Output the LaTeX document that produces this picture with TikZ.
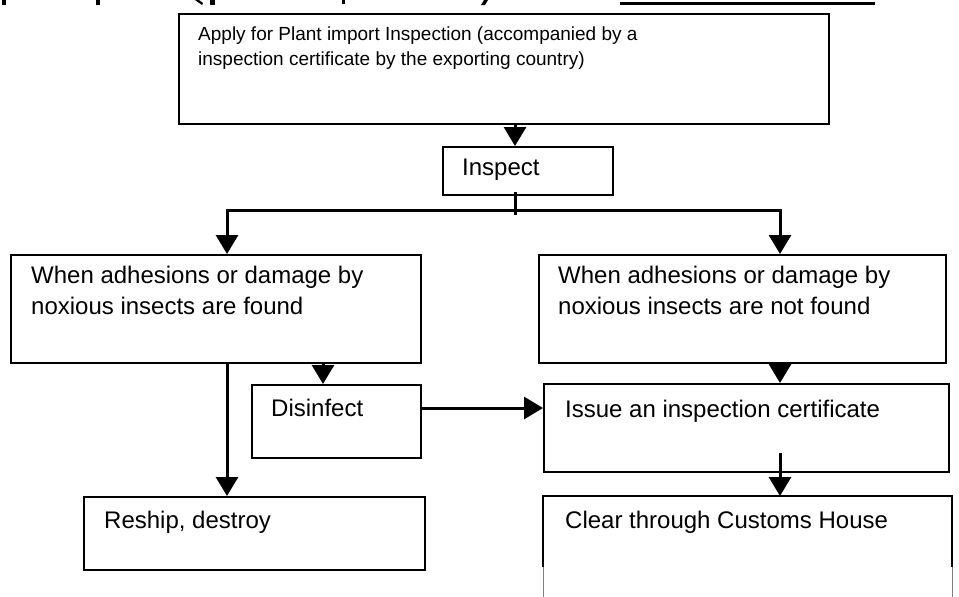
\documentclass[tikz,border=0pt]{standalone}
\usepackage{fontspec}
\setmainfont{Liberation Sans}
\usetikzlibrary{arrows.meta}
\begin{document}
\begin{tikzpicture}[x=1pt,y=-1pt,
  box/.style={draw=black, line width=2pt, inner sep=0pt, anchor=north west},
  lbl/.style={anchor=base west, inner sep=0pt, font=\fontsize{24}{31}\selectfont},
  lblsmall/.style={anchor=base west, inner sep=0pt, font=\fontsize{19}{25}\selectfont},
  conn/.style={line width=3pt, line join=miter},
  arr/.style={conn, -{Triangle[length=19pt,width=22pt]}},
]
\useasboundingbox (0,0) rectangle (959,597);

% heading cut off at the top edge: descenders and underline
\fill (2,0) rectangle (6,5);
\fill (96,0) rectangle (100,5);
\fill (195,0) -- (199,0) -- (203,3) -- (202,5) -- cycle;
\fill (210,0) rectangle (215,5);
\fill (342,0) rectangle (345,4);
\fill (484,0) -- (488,0) -- (485,5) -- (481,5) -- cycle;
\fill (620,1.5) rectangle (875,4.5);

% boxes
\node[box, minimum width=650pt, minimum height=110pt] (apply) at (178,13) {};
\node[box, minimum width=170pt, minimum height=48pt]  (insp)  at (442,146) {};
\node[box, minimum width=410pt, minimum height=108pt] (found) at (10,254) {};
\node[box, minimum width=407pt, minimum height=108pt] (nfound) at (538,254) {};
\node[box, minimum width=169pt, minimum height=73pt]  (dis)   at (251,384) {};
\node[box, minimum width=405pt, minimum height=88pt]  (issue) at (543,383) {};
\node[box, minimum width=341pt, minimum height=73pt]  (reship) at (83,496) {};
\node[anchor=north west, inner sep=0pt, minimum width=409pt, minimum height=101pt] (clear) at (543,496) {};
\draw[line width=2pt] ([yshift=30pt]clear.south west) -- (clear.north west)
  -- (clear.north east) -- ([yshift=30pt]clear.south east);
\draw[gray, line width=1pt] ([yshift=30pt]clear.south west) -- (clear.south west);
\draw[gray, line width=1pt] ([yshift=30pt]clear.south east) -- (clear.south east);

% texts
\node[lblsmall] (t1a) at (198,40) {Apply for Plant import Inspection (accompanied by a};
\node[lblsmall] (t1b) at (198,65) {inspection certificate by the exporting country)};
\node[lbl] (t2) at (462,175) {Inspect};
\node[lbl] (t3a) at (31,283) {When adhesions or damage by};
\node[lbl] (t3b) at (31,314) {noxious insects are found};
\node[lbl] (t4a) at (558,283) {When adhesions or damage by};
\node[lbl] (t4b) at (558,314) {noxious insects are not found};
\node[lbl] (t5) at (271,416) {Disinfect};
\node[lbl] (t6) at (565,417) {Issue an inspection certificate};
\node[lbl] (t7) at (104,528) {Reship, destroy};
\node[lbl] (t8) at (565,528) {Clear through Customs House};

% connector guide positions
\coordinate (xm) at (515,0);
\coordinate (xl) at (227,0);
\coordinate (xr) at (780,0);
\coordinate (xd) at (323,0);
\coordinate (yd) at (0,408);
\coordinate (split) at (515,210);

% connectors
\draw[arr] (apply.south -| xm) -- (insp.north -| xm);
\draw[conn] ([yshift=4pt]insp.south -| xm) -- ([yshift=-5pt]split);
\draw[arr] (split) -| (found.north -| xl);
\draw[arr] (split) -| (nfound.north -| xr);
\draw[arr] (found.south -| xl) -- (reship.north -| xl);
\draw[arr] (found.south -| xd) -- (dis.north -| xd);
\draw[arr] (dis.east |- yd) -- (issue.west |- yd);
\draw[arr] (nfound.south -| xr) -- (issue.north -| xr);
\draw[arr] ([yshift=20pt]issue.south -| xr) -- (clear.north -| xr);
\end{tikzpicture}
\end{document}
